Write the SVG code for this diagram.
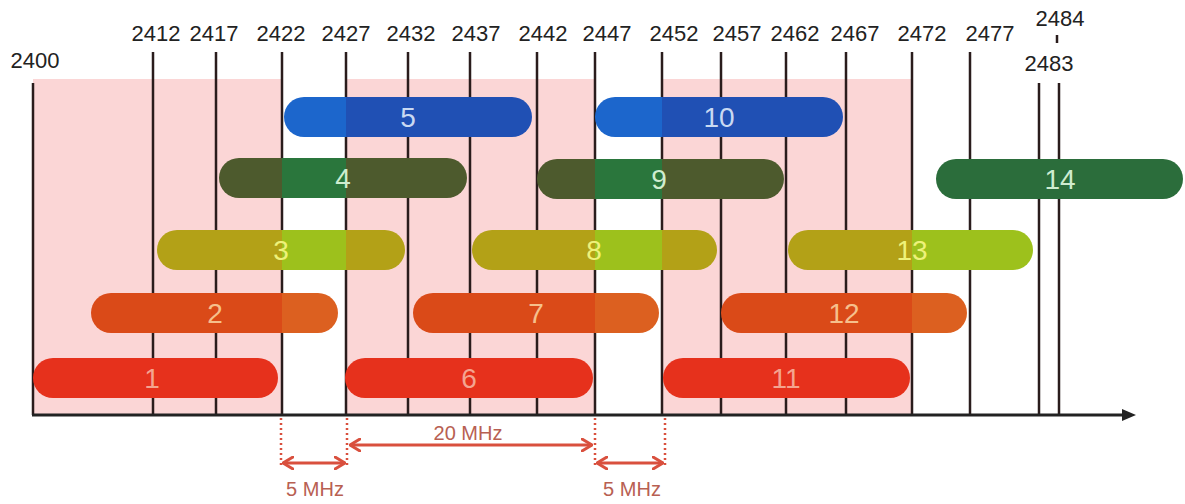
<svg xmlns="http://www.w3.org/2000/svg" width="1185" height="504" viewBox="0 0 1185 504">
<defs>
<style>
.lbl{font-family:"Liberation Sans",Arial,sans-serif;font-size:22px;fill:#222;text-anchor:middle}
.num{font-family:"Liberation Sans",Arial,sans-serif;font-size:28px;text-anchor:middle}
.mhz{font-family:"Liberation Sans",Arial,sans-serif;font-size:20px;fill:#b86052;text-anchor:middle}
.vl{stroke:#2a1c1c;stroke-width:2.5}
.dot{stroke:#d9503e;stroke-width:2.5;stroke-dasharray:2 3}
.arr{stroke:#d9503e;stroke-width:3;fill:none;marker-start:url(#ah);marker-end:url(#ah)}
.pink{fill:#fbd6d6}
</style>
<marker id="ah" viewBox="0 0 12 14" refX="11" refY="7" markerWidth="12" markerHeight="14" markerUnits="userSpaceOnUse" orient="auto-start-reverse">
<path d="M1,1 L11,7 L1,13" fill="none" stroke="#d9503e" stroke-width="3" stroke-linejoin="round" stroke-linecap="round"/>
</marker>
<marker id="axh" viewBox="0 0 14 12" refX="2" refY="6" markerWidth="14" markerHeight="12" markerUnits="userSpaceOnUse" orient="auto">
<path d="M0,0 L14,6 L0,12 Z" fill="#222"/>
</marker>
<linearGradient id="gBlue" gradientUnits="userSpaceOnUse" x1="0" y1="0" x2="1185" y2="0">
<stop offset="0.238" stop-color="#2050b4"/><stop offset="0.238" stop-color="#1c66cc"/>
<stop offset="0.292" stop-color="#1c66cc"/><stop offset="0.292" stop-color="#2050b4"/>
<stop offset="0.502" stop-color="#2050b4"/><stop offset="0.502" stop-color="#1c66cc"/>
<stop offset="0.5586" stop-color="#1c66cc"/><stop offset="0.5586" stop-color="#2050b4"/>
<stop offset="0.7696" stop-color="#2050b4"/><stop offset="0.7696" stop-color="#1c66cc"/>
</linearGradient>
<linearGradient id="gGreen" gradientUnits="userSpaceOnUse" x1="0" y1="0" x2="1185" y2="0">
<stop offset="0.238" stop-color="#4d5a2d"/><stop offset="0.238" stop-color="#2a763c"/>
<stop offset="0.292" stop-color="#2a763c"/><stop offset="0.292" stop-color="#4d5a2d"/>
<stop offset="0.502" stop-color="#4d5a2d"/><stop offset="0.502" stop-color="#2a763c"/>
<stop offset="0.5586" stop-color="#2a763c"/><stop offset="0.5586" stop-color="#4d5a2d"/>
<stop offset="0.7696" stop-color="#4d5a2d"/><stop offset="0.7696" stop-color="#2b6d3b"/>
</linearGradient>
<linearGradient id="gYellow" gradientUnits="userSpaceOnUse" x1="0" y1="0" x2="1185" y2="0">
<stop offset="0.238" stop-color="#b3a117"/><stop offset="0.238" stop-color="#9dc11c"/>
<stop offset="0.292" stop-color="#9dc11c"/><stop offset="0.292" stop-color="#b3a117"/>
<stop offset="0.502" stop-color="#b3a117"/><stop offset="0.502" stop-color="#9dc11c"/>
<stop offset="0.5586" stop-color="#9dc11c"/><stop offset="0.5586" stop-color="#b3a117"/>
<stop offset="0.7696" stop-color="#b3a117"/><stop offset="0.7696" stop-color="#9dc11c"/>
</linearGradient>
<linearGradient id="gOrange" gradientUnits="userSpaceOnUse" x1="0" y1="0" x2="1185" y2="0">
<stop offset="0.238" stop-color="#da4a18"/><stop offset="0.238" stop-color="#dc6020"/>
<stop offset="0.292" stop-color="#dc6020"/><stop offset="0.292" stop-color="#da4a18"/>
<stop offset="0.502" stop-color="#da4a18"/><stop offset="0.502" stop-color="#dc6020"/>
<stop offset="0.5586" stop-color="#dc6020"/><stop offset="0.5586" stop-color="#da4a18"/>
<stop offset="0.7696" stop-color="#da4a18"/><stop offset="0.7696" stop-color="#dc6020"/>
</linearGradient>
</defs>
<rect width="1185" height="504" fill="#fff"/>

<g id="background">
<rect class="pink" x="33" y="79" width="249" height="336"/>
<rect class="pink" x="346" y="79" width="249" height="336"/>
<rect class="pink" x="662" y="79" width="250" height="336"/>
</g>

<g id="frequency-lines">
<line class="vl" x1="33" y1="83" x2="33" y2="415"/>
<line class="vl" x1="153" y1="52" x2="153" y2="415"/>
<line class="vl" x1="216" y1="52" x2="216" y2="415"/>
<line class="vl" x1="282" y1="52" x2="282" y2="415"/>
<line class="vl" x1="346" y1="52" x2="346" y2="415"/>
<line class="vl" x1="408" y1="52" x2="408" y2="415"/>
<line class="vl" x1="470" y1="52" x2="470" y2="415"/>
<line class="vl" x1="537" y1="52" x2="537" y2="415"/>
<line class="vl" x1="595" y1="52" x2="595" y2="415"/>
<line class="vl" x1="662" y1="52" x2="662" y2="415"/>
<line class="vl" x1="721" y1="52" x2="721" y2="415"/>
<line class="vl" x1="786" y1="52" x2="786" y2="415"/>
<line class="vl" x1="846" y1="52" x2="846" y2="415"/>
<line class="vl" x1="912" y1="52" x2="912" y2="415"/>
<line class="vl" x1="970" y1="52" x2="970" y2="415"/>
<line class="vl" x1="1039" y1="83" x2="1039" y2="415"/>
<line class="vl" x1="1059" y1="83" x2="1059" y2="415"/>
<line x1="1057" y1="35" x2="1057" y2="43" stroke="#2a1c1c" stroke-width="2.5"/>
</g>

<g id="frequency-labels">
<text class="lbl" x="35" y="68">2400</text>
<text class="lbl" x="156" y="41">2412</text>
<text class="lbl" x="214" y="41">2417</text>
<text class="lbl" x="281" y="41">2422</text>
<text class="lbl" x="346" y="41">2427</text>
<text class="lbl" x="411" y="41">2432</text>
<text class="lbl" x="476" y="41">2437</text>
<text class="lbl" x="543" y="41">2442</text>
<text class="lbl" x="607" y="41">2447</text>
<text class="lbl" x="674" y="41">2452</text>
<text class="lbl" x="737" y="41">2457</text>
<text class="lbl" x="795" y="41">2462</text>
<text class="lbl" x="855" y="41">2467</text>
<text class="lbl" x="922" y="41">2472</text>
<text class="lbl" x="990" y="41">2477</text>
<text class="lbl" x="1060" y="26">2484</text>
<text class="lbl" x="1049" y="71">2483</text>
</g>

<g id="axis">
<line x1="32" y1="415" x2="1124" y2="415" stroke="#222" stroke-width="3" marker-end="url(#axh)"/>
</g>

<g id="ch1"><rect x="33" y="358" width="245" height="40" rx="20" fill="#e6311c"/><text class="num" x="152" y="388" fill="#f4a490">1</text></g>
<g id="ch6"><rect x="345" y="358" width="248" height="40" rx="20" fill="#e6311c"/><text class="num" x="469" y="388" fill="#f4a490">6</text></g>
<g id="ch11"><rect x="663" y="358" width="247" height="40" rx="20" fill="#e6311c"/><text class="num" x="786" y="388" fill="#f4a490">11</text></g>

<g id="ch2"><rect x="91" y="293" width="247" height="40" rx="20" fill="url(#gOrange)"/><text class="num" x="215" y="323" fill="#f6c08c">2</text></g>
<g id="ch7"><rect x="413" y="293" width="246" height="40" rx="20" fill="url(#gOrange)"/><text class="num" x="536" y="323" fill="#f6c08c">7</text></g>
<g id="ch12"><rect x="721" y="293" width="246" height="40" rx="20" fill="url(#gOrange)"/><text class="num" x="844" y="323" fill="#f6c08c">12</text></g>

<g id="ch3"><rect x="157" y="230" width="248" height="40" rx="20" fill="url(#gYellow)"/><text class="num" x="281" y="260" fill="#eef27a">3</text></g>
<g id="ch8"><rect x="472" y="230" width="245" height="40" rx="20" fill="url(#gYellow)"/><text class="num" x="594" y="260" fill="#eef27a">8</text></g>
<g id="ch13"><rect x="788" y="230" width="245" height="40" rx="20" fill="url(#gYellow)"/><text class="num" x="912" y="260" fill="#eef27a">13</text></g>

<g id="ch4"><rect x="219" y="158" width="248" height="40" rx="20" fill="url(#gGreen)"/><text class="num" x="343" y="188" fill="#cfeccf">4</text></g>
<g id="ch9"><rect x="537" y="159" width="247" height="40" rx="20" fill="url(#gGreen)"/><text class="num" x="659" y="189" fill="#cfeccf">9</text></g>
<g id="ch14"><rect x="936" y="159" width="247" height="40" rx="20" fill="url(#gGreen)"/><text class="num" x="1060" y="189" fill="#cfeccf">14</text></g>

<g id="ch5"><rect x="284" y="97" width="248" height="40" rx="20" fill="url(#gBlue)"/><text class="num" x="408" y="127" fill="#c9d9f2">5</text></g>
<g id="ch10"><rect x="595" y="97" width="248" height="40" rx="20" fill="url(#gBlue)"/><text class="num" x="719" y="127" fill="#c9d9f2">10</text></g>

<g id="connectors">
<line class="dot" x1="281" y1="418" x2="281" y2="466"/>
<line class="dot" x1="347" y1="418" x2="347" y2="466"/>
<line class="dot" x1="595" y1="418" x2="595" y2="466"/>
<line class="dot" x1="665" y1="418" x2="665" y2="466"/>
<line class="arr" x1="283" y1="463" x2="345" y2="463"/>
<line class="arr" x1="350" y1="445" x2="592" y2="445"/>
<line class="arr" x1="597" y1="463" x2="663" y2="463"/>
</g>

<g id="bandwidth-labels">
<text class="mhz" x="468" y="440">20 MHz</text>
<text class="mhz" x="315" y="496">5 MHz</text>
<text class="mhz" x="632" y="496">5 MHz</text>
</g>
</svg>
